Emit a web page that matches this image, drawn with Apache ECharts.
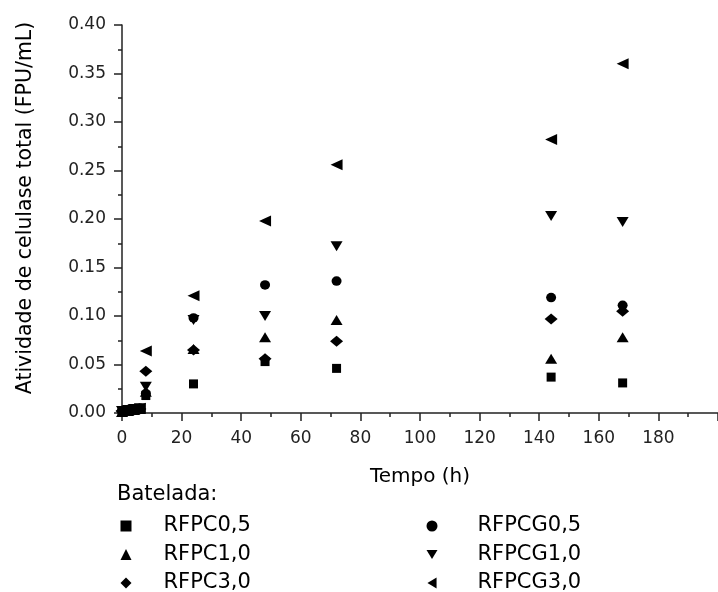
<!DOCTYPE html>
<html>
<head>
<meta charset="utf-8">
<script src="https://cdn.jsdelivr.net/npm/echarts@6/dist/echarts.min.js"></script>
<style>
html,body{margin:0;padding:0;background:#fff;}
#chart{width:718px;height:592px;}
</style>
</head>
<body>
<div id="chart"></div>
<script>
// Sampling times (h)
const times = [0, 2, 4, 6, 8, 24, 48, 72, 144, 168];
// Total cellulase activity (FPU/mL) per batch
const rfpc05  = [0.001, 0.002, 0.003, 0.004, 0.018, 0.030, 0.053, 0.046, 0.037, 0.031];
const rfpc10  = [0.001, 0.002, 0.003, 0.004, 0.022, 0.066, 0.078, 0.096, 0.056, 0.078];
const rfpc30  = [0.002, 0.003, 0.003, 0.004, 0.043, 0.065, 0.056, 0.074, 0.097, 0.105];
const rfpcg05 = [0.002, 0.003, 0.004, 0.005, 0.020, 0.098, 0.132, 0.136, 0.119, 0.111];
const rfpcg10 = [0.002, 0.003, 0.004, 0.005, 0.027, 0.096, 0.100, 0.172, 0.203, 0.197];
const rfpcg30 = [0.002, 0.003, 0.004, 0.005, 0.064, 0.121, 0.198, 0.256, 0.282, 0.360];

const seriesNames = ['RFPC0,5', 'RFPC1,0', 'RFPC3,0', 'RFPCG0,5', 'RFPCG1,0', 'RFPCG3,0'];
const seriesValues = [rfpc05, rfpc10, rfpc30, rfpcg05, rfpcg10, rfpcg30];
const symbols = ['rect', 'triangle', 'diamond', 'circle', 'triangle', 'triangle'];
const rotations = [0, 0, 0, 0, 180, 90];
const sizes = [[9, 9], [12, 10], [13, 11], [10, 9.5], [12, 10], [11, 12]];
const legendIcons = [
  'rect',
  'triangle',
  'diamond',
  'circle',
  'path://M0,0 L12,0 L6,10 Z',
  'path://M10,0 L0,6 L10,12 Z'
];

const FONT = 'DejaVu Sans';
const ink = '#000';

const chart = echarts.init(document.getElementById('chart'), null, {renderer: 'canvas'});

const series = seriesNames.map((name, k) => ({
  name: name,
  type: 'scatter',
  symbol: symbols[k],
  symbolRotate: rotations[k],
  symbolSize: sizes[k],
  itemStyle: {color: '#000', opacity: 1},
  data: times.map((t, i) => [t, seriesValues[k][i]])
}));

const legendBase = {
  orient: 'vertical',
  top: 515.5,
  height: 100,
  itemWidth: 11,
  itemHeight: 11,
  itemGap: 7.5,
  padding: 0,
  selectedMode: false,
  textStyle: {fontFamily: FONT, fontSize: 21, color: ink, lineHeight: 21}
};

chart.setOption({
  animation: false,
  backgroundColor: '#fff',
  title: {
    text: 'Batelada:',
    left: 117,
    top: 484,
    padding: 0,
    textStyle: {fontFamily: FONT, fontSize: 21, fontWeight: 'normal', color: ink}
  },
  legend: [
    Object.assign({}, legendBase, {
      left: 120.5,
      data: seriesNames.slice(0, 3).map((n, i) => ({name: n, icon: legendIcons[i]})),
      textStyle: Object.assign({}, legendBase.textStyle, {padding: [0, 0, 0, 27]})
    }),
    Object.assign({}, legendBase, {
      left: 426.5,
      data: seriesNames.slice(3).map((n, i) => ({name: n, icon: legendIcons[i + 3]})),
      textStyle: Object.assign({}, legendBase.textStyle, {padding: [0, 0, 0, 35]})
    })
  ],
  grid: {left: 122, right: -38, top: 25, bottom: 179},
  xAxis: {
    type: 'value',
    min: 0,
    max: 200,
    interval: 20,
    name: 'Tempo (h)',
    nameLocation: 'middle',
    nameGap: 54,
    nameTextStyle: {fontFamily: FONT, fontSize: 20, color: ink},
    axisLine: {show: true, lineStyle: {color: '#222', width: 1.5}},
    axisTick: {show: true, inside: false, length: 8, lineStyle: {color: '#222', width: 1.5}},
    minorTick: {show: true, splitNumber: 2, length: 4, lineStyle: {color: '#222', width: 1.5}},
    axisLabel: {fontFamily: FONT, fontSize: 17, color: '#222', margin: 17, showMaxLabel: false},
    splitLine: {show: false},
    minorSplitLine: {show: false}
  },
  yAxis: {
    type: 'value',
    min: 0,
    max: 0.4,
    interval: 0.05,
    name: 'Atividade de celulase total (FPU/mL)',
    nameLocation: 'middle',
    nameGap: 86,
    nameTextStyle: {fontFamily: FONT, fontSize: 20.5, color: ink, padding: [0, 0, 0, 22]},
    axisLine: {show: true, lineStyle: {color: '#222', width: 1.5}},
    axisTick: {show: true, inside: false, length: 8, lineStyle: {color: '#222', width: 1.5}},
    minorTick: {show: true, splitNumber: 2, length: 4, lineStyle: {color: '#222', width: 1.5}},
    axisLabel: {fontFamily: FONT, fontSize: 17, color: '#222', margin: 16,
      formatter: v => v.toFixed(2)},
    splitLine: {show: false},
    minorSplitLine: {show: false}
  },
  series: series
});
</script>
</body>
</html>
